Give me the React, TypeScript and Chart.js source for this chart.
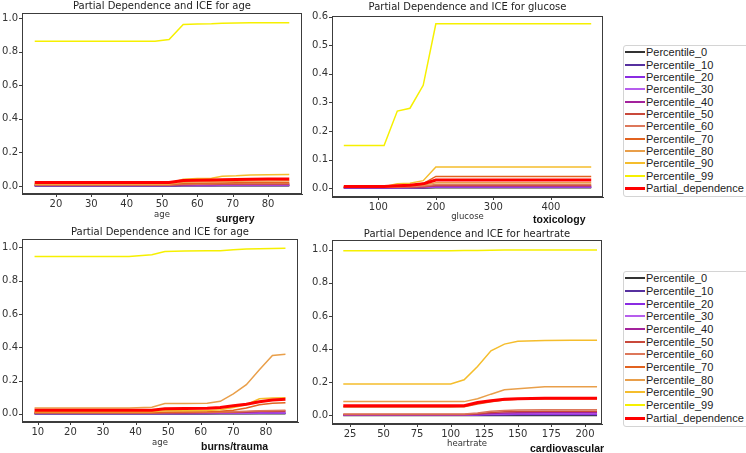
import React, { useEffect, useRef } from 'react';
import { Chart, registerables } from 'chart.js';

Chart.register(...registerables);

// ---------- series meta ----------
const SERIES_LABELS = [
  'Percentile_0', 'Percentile_10', 'Percentile_20', 'Percentile_30', 'Percentile_40',
  'Percentile_50', 'Percentile_60', 'Percentile_70', 'Percentile_80', 'Percentile_90',
  'Percentile_99', 'Partial_dependence',
];
const SERIES_COLORS = [
  '#333333', '#56309f', '#8a2be2', '#b65ded', '#a3229c',
  '#c9493b', '#dd775a', '#e2621f', '#e99f4a', '#f5bd2c',
  '#f6f000', '#ff0000',
];
const SERIES_WIDTHS = [1.5, 1.5, 1.5, 1.5, 1.5, 1.5, 1.5, 1.5, 1.5, 1.5, 1.5, 3];

// ---------- surgery: age ----------
const surgeryAge = [14, 22, 30, 38, 45, 48, 52, 56, 60, 64, 67, 71, 75, 80, 86];
const surgeryValues = [
  [0, 0, 0, 0, 0, 0, 0, 0.001, 0.001, 0.001, 0.001, 0.001, 0.001, 0.001, 0.001],
  [0.001, 0.001, 0.001, 0.001, 0.001, 0.001, 0.001, 0.002, 0.002, 0.002, 0.002, 0.002, 0.002, 0.002, 0.002],
  [0.002, 0.002, 0.002, 0.002, 0.002, 0.002, 0.002, 0.003, 0.003, 0.003, 0.004, 0.004, 0.004, 0.004, 0.004],
  [0.003, 0.003, 0.003, 0.003, 0.003, 0.003, 0.003, 0.005, 0.005, 0.005, 0.006, 0.006, 0.006, 0.006, 0.006],
  [0.004, 0.004, 0.004, 0.004, 0.004, 0.004, 0.004, 0.006, 0.007, 0.007, 0.008, 0.008, 0.008, 0.008, 0.009],
  [0.005, 0.005, 0.005, 0.005, 0.005, 0.005, 0.005, 0.009, 0.010, 0.010, 0.011, 0.011, 0.012, 0.012, 0.012],
  [0.006, 0.006, 0.006, 0.006, 0.006, 0.006, 0.006, 0.011, 0.012, 0.013, 0.014, 0.014, 0.015, 0.015, 0.015],
  [0.008, 0.008, 0.008, 0.008, 0.008, 0.008, 0.008, 0.015, 0.016, 0.017, 0.018, 0.019, 0.020, 0.020, 0.020],
  [0.010, 0.010, 0.010, 0.010, 0.010, 0.010, 0.010, 0.022, 0.024, 0.025, 0.027, 0.028, 0.030, 0.030, 0.031],
  [0.015, 0.015, 0.015, 0.015, 0.015, 0.015, 0.015, 0.040, 0.044, 0.046, 0.057, 0.060, 0.065, 0.066, 0.068],
  [0.862, 0.862, 0.862, 0.862, 0.862, 0.862, 0.872, 0.962, 0.964, 0.966, 0.969, 0.970, 0.972, 0.972, 0.972],
  [0.020, 0.020, 0.020, 0.020, 0.020, 0.020, 0.020, 0.032, 0.034, 0.035, 0.037, 0.038, 0.040, 0.041, 0.041],
];
const surgeryXTicks = [20, 30, 40, 50, 60, 70, 80];
const surgeryYTicks = [0, 0.2, 0.4, 0.6, 0.8, 1.0];

// ---------- toxicology: glucose ----------
const toxGlucose = [40, 65, 88, 110, 133, 155, 178, 200, 470];
const toxValues = [
  [0.001, 0.001, 0.001, 0.001, 0.001, 0.001, 0.001, 0.002, 0.002],
  [0.002, 0.002, 0.002, 0.002, 0.002, 0.002, 0.002, 0.004, 0.004],
  [0.002, 0.002, 0.002, 0.002, 0.002, 0.003, 0.003, 0.005, 0.005],
  [0.003, 0.003, 0.003, 0.003, 0.003, 0.003, 0.004, 0.006, 0.006],
  [0.003, 0.003, 0.003, 0.003, 0.004, 0.004, 0.005, 0.008, 0.008],
  [0.004, 0.004, 0.004, 0.004, 0.004, 0.005, 0.006, 0.010, 0.010],
  [0.004, 0.004, 0.004, 0.004, 0.005, 0.006, 0.008, 0.014, 0.014],
  [0.005, 0.005, 0.005, 0.005, 0.009, 0.011, 0.017, 0.042, 0.042],
  [0.004, 0.004, 0.004, 0.004, 0.007, 0.008, 0.012, 0.020, 0.020],
  [0.006, 0.006, 0.006, 0.006, 0.016, 0.018, 0.027, 0.075, 0.075],
  [0.150, 0.150, 0.150, 0.150, 0.270, 0.280, 0.360, 0.575, 0.575],
  [0.007, 0.007, 0.007, 0.007, 0.009, 0.011, 0.016, 0.029, 0.029],
];
const toxXTicks = [100, 200, 300, 400];
const toxYTicks = [0, 0.1, 0.2, 0.3, 0.4, 0.5, 0.6];

// ---------- burns/trauma: age ----------
const burnsAge = [9, 16, 23, 30, 38, 45, 49, 55, 62, 66, 70, 74, 78, 82, 86];
const burnsValues = [
  [0, 0, 0, 0, 0, 0, 0, 0, 0, 0, 0, 0, 0, 0, 0],
  [0.001, 0.001, 0.001, 0.001, 0.001, 0.001, 0.001, 0.001, 0.001, 0.002, 0.002, 0.002, 0.003, 0.003, 0.003],
  [0.002, 0.002, 0.002, 0.002, 0.002, 0.002, 0.002, 0.002, 0.003, 0.003, 0.003, 0.004, 0.004, 0.005, 0.005],
  [0.003, 0.003, 0.003, 0.003, 0.003, 0.003, 0.003, 0.004, 0.004, 0.004, 0.005, 0.005, 0.006, 0.007, 0.007],
  [0.004, 0.004, 0.004, 0.004, 0.004, 0.004, 0.005, 0.005, 0.006, 0.007, 0.008, 0.010, 0.012, 0.013, 0.014],
  [0.005, 0.005, 0.005, 0.005, 0.005, 0.005, 0.006, 0.007, 0.008, 0.009, 0.010, 0.012, 0.015, 0.016, 0.017],
  [0.006, 0.006, 0.006, 0.006, 0.006, 0.006, 0.008, 0.009, 0.010, 0.011, 0.013, 0.016, 0.019, 0.020, 0.021],
  [0.008, 0.008, 0.008, 0.008, 0.008, 0.008, 0.010, 0.011, 0.012, 0.015, 0.022, 0.035, 0.055, 0.063, 0.067],
  [0.035, 0.035, 0.035, 0.035, 0.035, 0.040, 0.062, 0.062, 0.063, 0.075, 0.120, 0.175, 0.265, 0.350, 0.358],
  [0.012, 0.012, 0.012, 0.012, 0.012, 0.012, 0.018, 0.019, 0.020, 0.024, 0.038, 0.055, 0.090, 0.095, 0.096],
  [0.945, 0.945, 0.945, 0.945, 0.945, 0.955, 0.975, 0.978, 0.979, 0.980, 0.985, 0.990, 0.991, 0.993, 0.995],
  [0.022, 0.022, 0.022, 0.022, 0.022, 0.022, 0.030, 0.032, 0.034, 0.038, 0.048, 0.058, 0.072, 0.083, 0.087],
];
const burnsXTicks = [10, 20, 30, 40, 50, 60, 70, 80];
const burnsYTicks = [0, 0.2, 0.4, 0.6, 0.8, 1.0];

// ---------- cardiovascular: heartrate ----------
const cardioHeartrate = [20, 30, 50, 70, 90, 100, 110, 120, 130, 140, 150, 170, 190, 209];
const cardioValues = [
  [0, 0, 0, 0, 0, 0, 0, 0, 0, 0, 0, 0, 0, 0],
  [0.001, 0.001, 0.001, 0.001, 0.001, 0.001, 0.001, 0.002, 0.003, 0.004, 0.004, 0.004, 0.004, 0.004],
  [0.002, 0.002, 0.002, 0.002, 0.002, 0.002, 0.002, 0.003, 0.005, 0.006, 0.007, 0.007, 0.007, 0.007],
  [0.003, 0.003, 0.003, 0.003, 0.003, 0.003, 0.003, 0.005, 0.008, 0.010, 0.011, 0.011, 0.011, 0.011],
  [0.004, 0.004, 0.004, 0.004, 0.004, 0.004, 0.004, 0.007, 0.012, 0.015, 0.016, 0.017, 0.017, 0.017],
  [0.006, 0.006, 0.006, 0.006, 0.006, 0.006, 0.006, 0.010, 0.018, 0.022, 0.024, 0.025, 0.025, 0.025],
  [0.009, 0.009, 0.009, 0.009, 0.009, 0.009, 0.009, 0.014, 0.025, 0.030, 0.032, 0.034, 0.034, 0.034],
  [0.050, 0.050, 0.050, 0.050, 0.050, 0.050, 0.052, 0.068, 0.082, 0.093, 0.097, 0.100, 0.100, 0.100],
  [0.083, 0.083, 0.083, 0.083, 0.083, 0.083, 0.083, 0.100, 0.128, 0.154, 0.160, 0.173, 0.173, 0.173],
  [0.190, 0.190, 0.190, 0.190, 0.190, 0.190, 0.215, 0.295, 0.390, 0.430, 0.447, 0.452, 0.453, 0.453],
  [0.993, 0.993, 0.993, 0.993, 0.993, 0.993, 0.994, 0.995, 0.996, 0.997, 0.997, 0.997, 0.997, 0.997],
  [0.058, 0.058, 0.058, 0.058, 0.058, 0.058, 0.058, 0.078, 0.088, 0.097, 0.100, 0.103, 0.104, 0.104],
];
const cardioXTicks = [25, 50, 75, 100, 125, 150, 175, 200];
const cardioYTicks = [0, 0.2, 0.4, 0.6, 0.8, 1.0];

// ---------- panel layout specs ----------
type PanelSpec = {
  left: number; top: number; width: number; height: number;
  padRight: number; yAxisWidth: number; xAxisHeight: number;
  titlePadTop: number; titlePadBottom: number; xTitlePadBottom: number;
  title: string; xLabel: string; x: number[]; series: number[][];
  xMin: number; xMax: number; yMin: number; yMax: number;
  xTicks: number[]; yTicks: number[];
};

const PANELS: PanelSpec[] = [
  {
    left: 0, top: 0, width: 310, height: 228, padRight: 8, yAxisWidth: 22, xAxisHeight: 34,
    titlePadTop: 0, titlePadBottom: 1, xTitlePadBottom: 7.9,
    title: 'Partial Dependence and ICE for age', xLabel: 'age', x: surgeryAge, series: surgeryValues,
    xMin: 10.4, xMax: 89.6, yMin: -0.048, yMax: 1.03, xTicks: surgeryXTicks, yTicks: surgeryYTicks,
  },
  {
    left: 310, top: 0, width: 300, height: 228, padRight: 7, yAxisWidth: 22, xAxisHeight: 31,
    titlePadTop: 1, titlePadBottom: 3, xTitlePadBottom: 5.9,
    title: 'Partial Dependence and ICE for glucose', xLabel: 'glucose', x: toxGlucose, series: toxValues,
    xMin: 19.5, xMax: 490.5, yMin: -0.03, yMax: 0.602, xTicks: toxXTicks, yTicks: toxYTicks,
  },
  {
    left: 0, top: 226, width: 310, height: 227, padRight: 12, yAxisWidth: 22, xAxisHeight: 31,
    titlePadTop: 0, titlePadBottom: 1, xTitlePadBottom: 4.9,
    title: 'Partial Dependence and ICE for age', xLabel: 'age', x: burnsAge, series: burnsValues,
    xMin: 5.15, xMax: 89.85, yMin: -0.049, yMax: 1.05, xTicks: burnsXTicks, yTicks: burnsYTicks,
  },
  {
    left: 310, top: 226, width: 300, height: 227, padRight: 8, yAxisWidth: 22, xAxisHeight: 29,
    titlePadTop: 2, titlePadBottom: 0, xTitlePadBottom: 3.9,
    title: 'Partial Dependence and ICE for heartrate', xLabel: 'heartrate', x: cardioHeartrate, series: cardioValues,
    xMin: 11.6, xMax: 212.7, yMin: -0.052, yMax: 1.058, xTicks: cardioXTicks, yTicks: cardioYTicks,
  },
];

const ANNOTATIONS = [
  { text: 'surgery', left: 216, cy: 218 },
  { text: 'toxicology', left: 533, cy: 219 },
  { text: 'burns/trauma', left: 201, cy: 446 },
  { text: 'cardiovascular', left: 530, cy: 448 },
];

const FRAME_COLOR = '#3c3c3c';
const TICK_LEN = 3;
// Chart.js keeps its default 8px tick length in layout when grid ticks are on;
// compensate so labels sit TICK_LEN + 1 px from the axis.
const DEFAULT_TICK_LENGTH = 8;

// Draws the full axes box and outward tick marks from the scales' own bounds.
const axesFramePlugin = {
  id: 'axesFrame',
  afterDraw(chart: any) {
    const ctx = chart.ctx;
    const xs = chart.scales.x;
    const ys = chart.scales.y;
    if (!xs || !ys) return;
    const l = Math.round(xs.left);
    const r = Math.round(xs.right);
    const t = Math.round(ys.top);
    const b = Math.round(ys.bottom);
    ctx.save();
    ctx.fillStyle = FRAME_COLOR;
    ctx.fillRect(l, t, r - l, 1);
    ctx.fillRect(l, b - 1, r - l, 1);
    ctx.fillRect(l, t, 1, b - t);
    ctx.fillRect(r - 1, t, 1, b - t);
    xs.ticks.forEach((tk: any) => {
      const px = Math.round(xs.getPixelForValue(tk.value));
      ctx.fillRect(px, b, 1, TICK_LEN);
    });
    ys.ticks.forEach((tk: any) => {
      const py = Math.round(ys.getPixelForValue(tk.value));
      ctx.fillRect(l - TICK_LEN, py, TICK_LEN, 1);
    });
    ctx.restore();
  },
};

const FONT_FAMILY = '"DejaVu Sans", sans-serif';

function Panel({ spec }: { spec: PanelSpec }) {
  const ref = useRef<HTMLCanvasElement>(null);
  useEffect(() => {
    const canvas = ref.current;
    if (!canvas) return;
    const n = SERIES_LABELS.length;
    const options: any = {
      animation: false,
      responsive: false,
      layout: { padding: { left: 0, right: spec.padRight, top: 0, bottom: 0 } },
      plugins: {
        legend: { display: false },
        tooltip: { enabled: false },
        title: {
          display: true,
          text: spec.title,
          fullSize: false,
          color: '#222222',
          font: { family: FONT_FAMILY, size: 10, weight: 'normal', lineHeight: 1.2 },
          padding: { top: spec.titlePadTop, bottom: spec.titlePadBottom },
        },
      },
      scales: {
        x: {
          type: 'linear',
          min: spec.xMin,
          max: spec.xMax,
          afterFit: (s: any) => { s.height = spec.xAxisHeight; },
          afterBuildTicks: (s: any) => { s.ticks = spec.xTicks.map((v) => ({ value: v })); },
          ticks: {
            color: '#333333',
            padding: 1 + TICK_LEN - DEFAULT_TICK_LENGTH,
            maxRotation: 0,
            autoSkip: false,
            font: { family: FONT_FAMILY, size: 10 },
            callback: (v: any) => String(v),
          },
          grid: { display: false },
          border: { display: true, color: FRAME_COLOR, width: 1 },
          title: {
            display: true,
            text: spec.xLabel,
            color: '#333333',
            font: { family: FONT_FAMILY, size: 8.5, lineHeight: 1.2 },
            padding: { top: 0, bottom: spec.xTitlePadBottom },
          },
        },
        y: {
          type: 'linear',
          min: spec.yMin,
          max: spec.yMax,
          afterFit: (s: any) => { s.width = spec.yAxisWidth; },
          afterBuildTicks: (s: any) => { s.ticks = spec.yTicks.map((v) => ({ value: v })); },
          ticks: {
            color: '#333333',
            padding: 1 + TICK_LEN - DEFAULT_TICK_LENGTH,
            autoSkip: false,
            font: { family: FONT_FAMILY, size: 10 },
            callback: (v: any) => Number(v).toFixed(1),
          },
          grid: { display: false },
          border: { display: true, color: FRAME_COLOR, width: 1 },
        },
      },
    };
    const chart = new Chart(canvas, {
      type: 'line',
      data: {
        datasets: SERIES_LABELS.map((label, i) => ({
          label,
          data: spec.x.map((xv, j) => ({ x: xv, y: spec.series[i][j] })),
          borderColor: SERIES_COLORS[i],
          backgroundColor: SERIES_COLORS[i],
          borderWidth: SERIES_WIDTHS[i],
          pointRadius: 0,
          tension: 0,
          order: n - 1 - i,
        })),
      },
      options,
      plugins: [axesFramePlugin],
    });
    return () => chart.destroy();
  }, [spec]);
  return (
    <div style={{ position: 'absolute', left: spec.left, top: spec.top, width: spec.width, height: spec.height }}>
      <canvas ref={ref} width={spec.width} height={spec.height} style={{ display: 'block', width: spec.width, height: spec.height }} />
    </div>
  );
}

function Legend({ left, top, rowHeight }: { left: number; top: number; rowHeight: number }) {
  const n = SERIES_LABELS.length;
  const innerHeight = Math.round(n * rowHeight) + 2;
  return (
    <div
      style={{
        position: 'absolute', left, top, width: 140, height: innerHeight,
        border: '1px solid #d4d4d4', borderRadius: 3,
        background: '#ffffff', fontFamily: '"Liberation Sans", Arial, sans-serif', fontSize: 11, color: '#222222',
      }}
    >
      {SERIES_LABELS.map((label, i) => {
        const cy = Math.round(i * rowHeight + rowHeight / 2);
        const h = SERIES_WIDTHS[i] > 2 ? 3 : 2;
        return (
          <React.Fragment key={label}>
            <div style={{ position: 'absolute', left: 1, top: cy - Math.floor(h / 2), width: 20, height: h, background: SERIES_COLORS[i] }} />
            <div style={{ position: 'absolute', left: 22, top: cy - 7, height: 14, lineHeight: '14px', whiteSpace: 'nowrap' }}>{label}</div>
          </React.Fragment>
        );
      })}
    </div>
  );
}

export default function App() {
  return (
    <div style={{ position: 'absolute', left: 0, top: 0, width: 746, height: 453, overflow: 'hidden', background: '#ffffff' }}>
      {PANELS.map((p, i) => <Panel key={i} spec={p} />)}
      <Legend left={623} top={45} rowHeight={12.36} />
      <Legend left={623} top={271} rowHeight={12.67} />
      {ANNOTATIONS.map((a) => (
        <div
          key={a.text}
          style={{
            position: 'absolute', left: a.left, top: a.cy - 7, height: 14, lineHeight: '14px',
            fontFamily: '"Liberation Sans", Arial, sans-serif', fontWeight: 'bold', fontSize: 10.5, color: '#111111', whiteSpace: 'nowrap',
          }}
        >
          {a.text}
        </div>
      ))}
    </div>
  );
}
